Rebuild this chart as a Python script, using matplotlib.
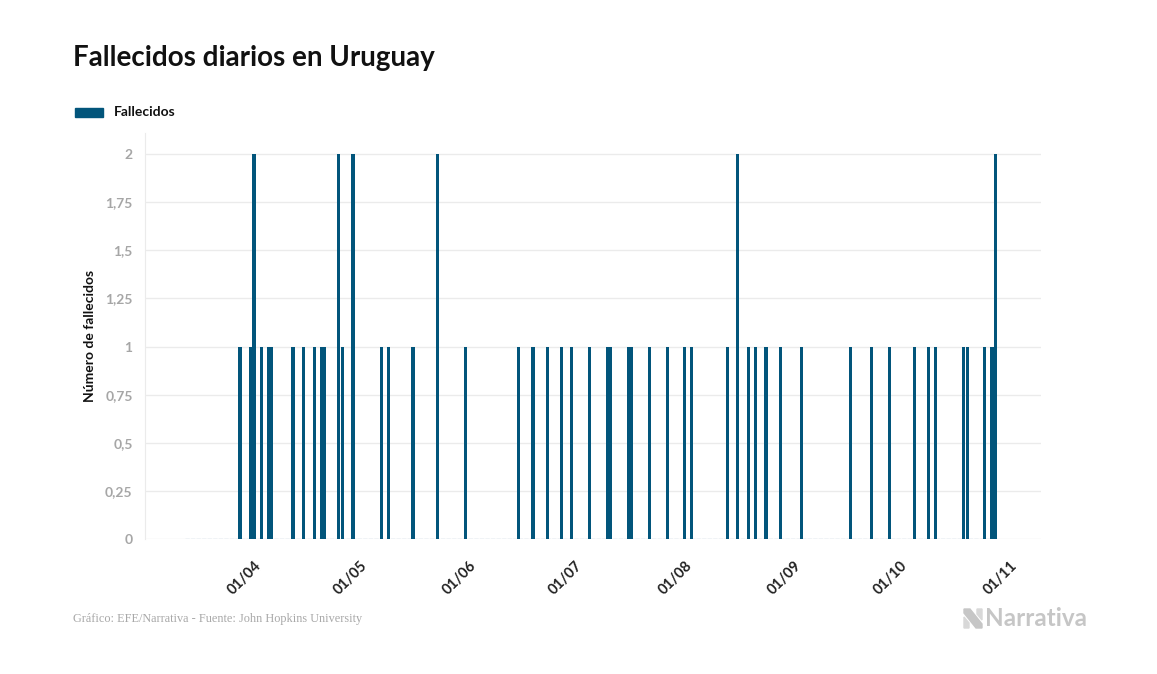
import matplotlib
matplotlib.use("Agg")
import matplotlib.pyplot as plt
import matplotlib.dates as mdates
import pandas as pd
from matplotlib.patches import Polygon

# Series range (days with no deaths are 0)
fecha_inicio = "2020-03-13"
fecha_fin = "2020-10-28"

# Days with deaths
fechas = [
    "2020-03-28", "2020-03-31", "2020-04-01", "2020-04-03", "2020-04-05",
    "2020-04-06", "2020-04-12", "2020-04-15", "2020-04-18", "2020-04-20",
    "2020-04-21", "2020-04-25", "2020-04-26", "2020-04-29", "2020-05-07",
    "2020-05-09", "2020-05-16", "2020-05-23", "2020-05-31", "2020-06-15",
    "2020-06-19", "2020-06-23", "2020-06-27", "2020-06-30", "2020-07-05",
    "2020-07-10", "2020-07-11", "2020-07-16", "2020-07-17", "2020-07-22",
    "2020-07-27", "2020-08-01", "2020-08-03", "2020-08-13", "2020-08-16",
    "2020-08-19", "2020-08-21", "2020-08-24", "2020-08-28", "2020-09-03",
    "2020-09-17", "2020-09-23", "2020-09-28", "2020-10-05", "2020-10-09",
    "2020-10-11", "2020-10-19", "2020-10-20", "2020-10-25", "2020-10-27",
    "2020-10-28",
]
fallecidos = [
    1, 1, 2, 1, 1,
    1, 1, 1, 1, 1,
    1, 2, 1, 2, 1,
    1, 1, 2, 1, 1,
    1, 1, 1, 1, 1,
    1, 1, 1, 1, 1,
    1, 1, 1, 1, 2,
    1, 1, 1, 1, 1,
    1, 1, 1, 1, 1,
    1, 1, 1, 1, 1,
    2,
]

tick_fechas = ["2020-04-01", "2020-05-01", "2020-06-01", "2020-07-01",
               "2020-08-01", "2020-09-01", "2020-10-01", "2020-11-01"]
tick_labels = ["01/04", "01/05", "01/06", "01/07", "01/08", "01/09", "01/10", "01/11"]
y_ticks = [0, 0.25, 0.5, 0.75, 1, 1.25, 1.5, 1.75, 2]
y_labels = ["0", "0,25", "0,5", "0,75", "1", "1,25", "1,5", "1,75", "2"]

serie = pd.Series(0, index=pd.date_range(fecha_inicio, fecha_fin, freq="D"))
serie[pd.to_datetime(fechas)] = fallecidos

plt.rcParams["font.family"] = ["Lato", "DejaVu Sans"]

W, H = 1157, 674
fig = plt.figure(figsize=(W / 100, H / 100), dpi=100)
ax = fig.add_axes([145 / W, 1 - 539 / H, (1041 - 145) / W, (539 - 133) / H])

color = "#02557b"
x = mdates.date2num(serie.index)
ax.bar(x, serie.values, width=0.9, color=color, linewidth=0, zorder=3)
# zero-height days drawn as a faint baseline, like the original
ax.plot([x[0] - 0.45, x[-1] + 0.45], [0, 0], color="#c5d6e2", linewidth=1,
        linestyle=(0, (3, 1)), zorder=2)

d0 = mdates.date2num(pd.Timestamp("2020-04-01"))
ax.set_xlim(d0 - 30.9, d0 + 222.9)
ax.set_ylim(0, 2.11)

ax.set_yticks(y_ticks)
ax.set_yticklabels(y_labels, color="#a6a6a6", fontsize=10, fontweight="bold")
ax.set_xticks(mdates.date2num(pd.to_datetime(tick_fechas)))
ax.set_xticklabels(tick_labels, rotation=45, ha="right", rotation_mode="anchor",
                   fontsize=10.5, fontweight="bold", color="#222222")
ax.tick_params(axis="both", length=0)
ax.tick_params(axis="x", pad=14)
ax.tick_params(axis="y", pad=9)

ax.grid(axis="y", color="#ebebeb", linewidth=1, zorder=0)
for s in ["top", "right", "bottom"]:
    ax.spines[s].set_visible(False)
ax.spines["left"].set_color("#ebebeb")

ax.set_ylabel("Número de fallecidos", fontsize=10, fontweight="bold",
              color="#111111")
ax.yaxis.set_label_coords((96 - 145) / (1041 - 145), 0.5)

fig.text(73 / W, 1 - 58 / H, "Fallecidos diarios en Uruguay", fontsize=20,
         fontweight="bold", color="#111111", va="center", ha="left")

# legend
fig.patches.append(plt.Rectangle((75 / W, 1 - 117 / H), 28 / W, 9 / H,
                                 transform=fig.transFigure, color=color))
fig.text(114 / W, 1 - 112 / H, "Fallecidos", fontsize=10, fontweight="bold",
         color="#111111", va="center", ha="left")

# footer
fig.text(73 / W, 1 - 619 / H, "Gráfico: EFE/Narrativa - Fuente: John Hopkins University",
         fontsize=8.8, color="#a8a8a8", family="Liberation Serif",
         va="center", ha="left")

# logo
gris = "#c6c6c6"
fig.patches.append(Polygon([(964 / W, 1 - 609 / H), (970 / W, 1 - 609 / H),
                            (982 / W, 1 - 624 / H), (982 / W, 1 - 628 / H),
                            (976 / W, 1 - 628 / H), (964 / W, 1 - 613 / H)],
                           closed=True, transform=fig.transFigure, color=gris))
fig.patches.append(Polygon([(964 / W, 1 - 617 / H), (969 / W, 1 - 623 / H),
                            (969 / W, 1 - 628 / H), (964 / W, 1 - 628 / H)],
                           closed=True, transform=fig.transFigure, color="#d8d8d8"))
fig.patches.append(Polygon([(977 / W, 1 - 609 / H), (982 / W, 1 - 609 / H),
                            (982 / W, 1 - 620 / H), (977 / W, 1 - 614 / H)],
                           closed=True, transform=fig.transFigure, color="#d8d8d8"))
fig.text(985 / W, 1 - 618 / H, "Narrativa", fontsize=17.5, fontweight="bold",
         color=gris, va="center", ha="left")

fig.savefig("out.png", dpi=100)
